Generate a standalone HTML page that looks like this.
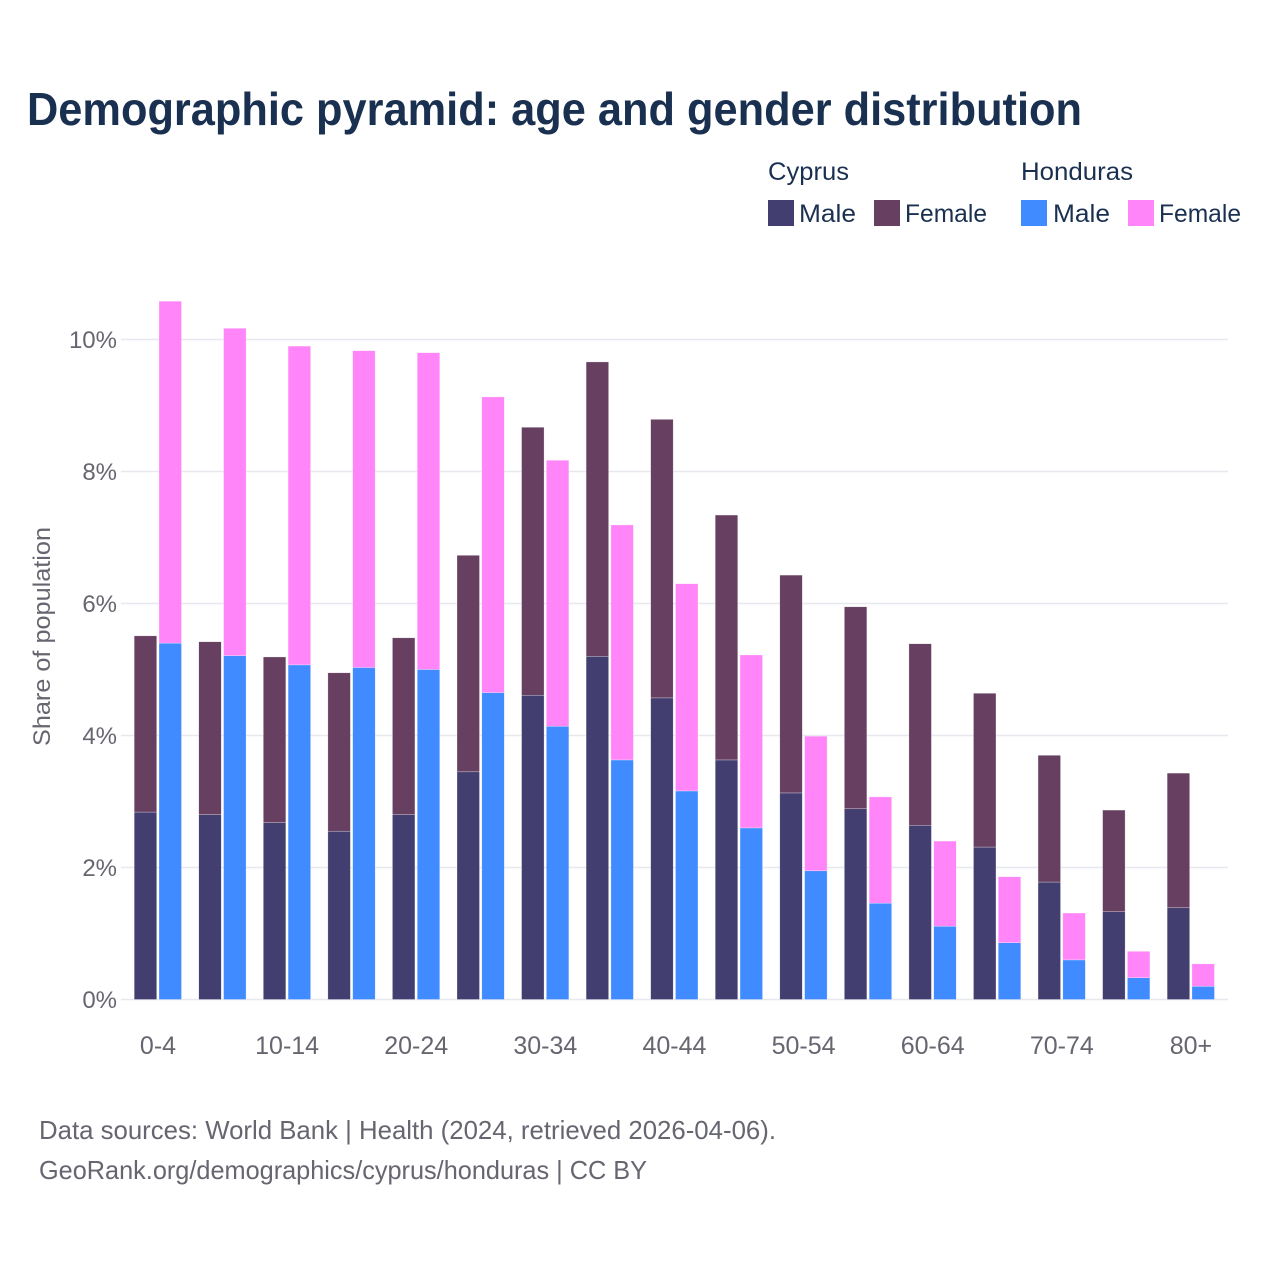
<!DOCTYPE html>
<html lang="en">
<head>
<meta charset="utf-8">
<title>Demographic pyramid: age and gender distribution</title>
<style>
html,body{margin:0;padding:0;background:#fff;}
svg{display:block;font-family:"Liberation Sans",sans-serif;}
</style>
</head>
<body>
<svg id="chart" xmlns="http://www.w3.org/2000/svg" width="1280" height="1280" viewBox="0 0 1280 1280">
  <rect width="1280" height="1280" fill="#ffffff"/>
  <text x="27" y="125" font-size="46" font-weight="700" fill="#1a3050" textLength="1055" lengthAdjust="spacingAndGlyphs">Demographic pyramid: age and gender distribution</text>

  <g font-size="25" fill="#1a3050">
    <text x="768" y="180" textLength="81" lengthAdjust="spacingAndGlyphs">Cyprus</text>
    <text x="1021" y="180" textLength="112" lengthAdjust="spacingAndGlyphs">Honduras</text>
    <rect x="768" y="200" width="26" height="26" fill="#433e70"/>
    <text x="799" y="222" textLength="57" lengthAdjust="spacingAndGlyphs">Male</text>
    <rect x="874" y="200" width="26" height="26" fill="#674061"/>
    <text x="905" y="222" textLength="82" lengthAdjust="spacingAndGlyphs">Female</text>
    <rect x="1021" y="200" width="26" height="26" fill="#408bff"/>
    <text x="1053" y="222" textLength="57" lengthAdjust="spacingAndGlyphs">Male</text>
    <rect x="1128" y="200" width="26" height="26" fill="#ff85f9"/>
    <text x="1159" y="222" textLength="82" lengthAdjust="spacingAndGlyphs">Female</text>
  </g>

  <g id="grid"></g>
  <g id="yticks"></g>
  <g id="bars"></g>
  <g id="xticks"></g>

  <text transform="translate(50,636.5) rotate(-90)" text-anchor="middle" font-size="24" fill="#666670" textLength="219" lengthAdjust="spacingAndGlyphs">Share of population</text>

  <text x="39" y="1139" font-size="25.6" fill="#666670" textLength="737" lengthAdjust="spacingAndGlyphs">Data sources: World Bank | Health (2024, retrieved 2026-04-06).</text>
  <text x="39" y="1179" font-size="25.6" fill="#666670" textLength="608" lengthAdjust="spacingAndGlyphs">GeoRank.org/demographics/cyprus/honduras | CC BY</text>
</svg>
<script>
const ageGroups = ["0-4","5-9","10-14","15-19","20-24","25-29","30-34","35-39","40-44","45-49","50-54","55-59","60-64","65-69","70-74","75-79","80+"];
const cyprusMale = [2.84,2.80,2.68,2.55,2.80,3.45,4.61,5.20,4.57,3.63,3.13,2.89,2.64,2.31,1.78,1.33,1.39];
const cyprusFemale = [2.67,2.62,2.51,2.40,2.68,3.28,4.06,4.46,4.22,3.71,3.30,3.06,2.75,2.33,1.92,1.54,2.04];
const hondurasMale = [5.40,5.21,5.07,5.03,5.00,4.65,4.14,3.63,3.16,2.60,1.95,1.46,1.11,0.86,0.60,0.33,0.20];
const hondurasFemale = [5.18,4.96,4.83,4.80,4.80,4.48,4.03,3.56,3.14,2.62,2.04,1.61,1.29,1.00,0.71,0.40,0.34];
const yTickValues = [0,2,4,6,8,10];

const NS = "http://www.w3.org/2000/svg";
function yScale(v){ return 999.5 - v * 66; }
function xCenter(i){ return 158 + i * 64.56; }
const barWidth = 22.5;
const barOffsets = [-23.8, 1];

function makeRect(parent, x, y, w, h, fill){
  const r = document.createElementNS(NS, "rect");
  r.setAttribute("x", x);
  r.setAttribute("y", y);
  r.setAttribute("width", w);
  r.setAttribute("height", h);
  r.setAttribute("fill", fill);
  r.setAttribute("stroke", "#ffffff");
  r.setAttribute("stroke-opacity", "0.55");
  r.setAttribute("stroke-width", "0.5");
  parent.appendChild(r);
  return r;
}

const gridG = document.getElementById("grid");
const yG = document.getElementById("yticks");
yTickValues.forEach(function(v){
  const ln = document.createElementNS(NS, "line");
  
  
  ln.setAttribute("x1", 121);
  ln.setAttribute("x2", 1228);
  ln.setAttribute("y1", yScale(v));
  ln.setAttribute("y2", yScale(v));
  ln.setAttribute("stroke", "#e8e8ef");
  ln.setAttribute("stroke-width", "1.6");
  gridG.appendChild(ln);

  const t = document.createElementNS(NS, "text");
  
  
  t.setAttribute("x", 117);
  t.setAttribute("y", yScale(v) + 8.5);
  t.setAttribute("text-anchor", "end");
  t.setAttribute("font-size", "24");
  t.setAttribute("fill", "#666670");
  t.textContent = v + "%";
  yG.appendChild(t);
});

const barsG = document.getElementById("bars");
const xG = document.getElementById("xticks");
ageGroups.forEach(function(label, i){
  const cx = xCenter(i);
  const x1 = cx + barOffsets[0];
  const x2 = cx + barOffsets[1];

  const cm = makeRect(barsG, x1, yScale(cyprusMale[i]), barWidth, yScale(0) - yScale(cyprusMale[i]), "#433e70");
  
  

  const cf = makeRect(barsG, x1, yScale(cyprusMale[i] + cyprusFemale[i]), barWidth, yScale(cyprusMale[i]) - yScale(cyprusMale[i] + cyprusFemale[i]), "#674061");
  
  

  const hm = makeRect(barsG, x2, yScale(hondurasMale[i]), barWidth, yScale(0) - yScale(hondurasMale[i]), "#408bff");
  
  

  const hf = makeRect(barsG, x2, yScale(hondurasMale[i] + hondurasFemale[i]), barWidth, yScale(hondurasMale[i]) - yScale(hondurasMale[i] + hondurasFemale[i]), "#ff85f9");
  
  

  if (i % 2 === 0) {
    const t = document.createElementNS(NS, "text");
    
    
    t.setAttribute("x", cx);
    t.setAttribute("y", 1054);
    t.setAttribute("text-anchor", "middle");
    t.setAttribute("font-size", "25");
    t.setAttribute("fill", "#666670");
    t.textContent = label;
    xG.appendChild(t);
  }
});
</script>
</body>
</html>
